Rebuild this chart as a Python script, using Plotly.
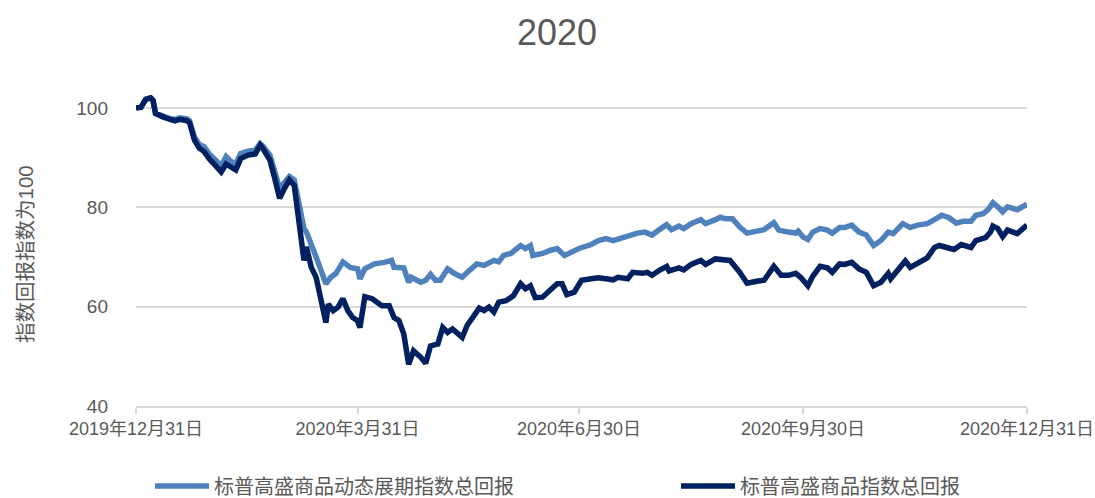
import plotly.graph_objects as go

title_text = "2020"
y_title = "指数回报指数为100"
name_dyn = "标普高盛商品动态展期指数总回报"
name_gsci = "标普高盛商品指数总回报"

tick_dates = ["2019-12-31", "2020-03-31", "2020-06-30", "2020-09-30", "2020-12-31"]
tick_labels = ["2019年12月31日", "2020年3月31日", "2020年6月30日", "2020年9月30日", "2020年12月31日"]
y_ticks = [40, 60, 80, 100]

gsci_dates = [
    "2019-12-31", "2020-01-02", "2020-01-04", "2020-01-06", "2020-01-07", "2020-01-08", "2020-01-11",
    "2020-01-14", "2020-01-16", "2020-01-18", "2020-01-21", "2020-01-22", "2020-01-24", "2020-01-26",
    "2020-01-28", "2020-01-30", "2020-02-02", "2020-02-04", "2020-02-06", "2020-02-08", "2020-02-10",
    "2020-02-12", "2020-02-15", "2020-02-18", "2020-02-20", "2020-02-21", "2020-02-24", "2020-02-26",
    "2020-02-28", "2020-03-01", "2020-03-03", "2020-03-05", "2020-03-07", "2020-03-09", "2020-03-10",
    "2020-03-12", "2020-03-14", "2020-03-16", "2020-03-18", "2020-03-19", "2020-03-21", "2020-03-23",
    "2020-03-25", "2020-03-27", "2020-03-29", "2020-03-31", "2020-04-01", "2020-04-03", "2020-04-06",
    "2020-04-08", "2020-04-10", "2020-04-13", "2020-04-15", "2020-04-17", "2020-04-19", "2020-04-21",
    "2020-04-23", "2020-04-26", "2020-04-28", "2020-04-30", "2020-05-03", "2020-05-05", "2020-05-07",
    "2020-05-09", "2020-05-11", "2020-05-13", "2020-05-15", "2020-05-18", "2020-05-20", "2020-05-22",
    "2020-05-24", "2020-05-26", "2020-05-28", "2020-05-31", "2020-06-03", "2020-06-06", "2020-06-08",
    "2020-06-10", "2020-06-12", "2020-06-15", "2020-06-18", "2020-06-21", "2020-06-23", "2020-06-25",
    "2020-06-28", "2020-06-30", "2020-07-01", "2020-07-05", "2020-07-08", "2020-07-11", "2020-07-14",
    "2020-07-16", "2020-07-20", "2020-07-22", "2020-07-26", "2020-07-28", "2020-07-30", "2020-08-02",
    "2020-08-05", "2020-08-06", "2020-08-10", "2020-08-12", "2020-08-15", "2020-08-19", "2020-08-21",
    "2020-08-25", "2020-08-28", "2020-08-31", "2020-09-04", "2020-09-07", "2020-09-11", "2020-09-14",
    "2020-09-18", "2020-09-21", "2020-09-24", "2020-09-27", "2020-09-29", "2020-10-02", "2020-10-04",
    "2020-10-07", "2020-10-10", "2020-10-12", "2020-10-15", "2020-10-17", "2020-10-20", "2020-10-23",
    "2020-10-26", "2020-10-29", "2020-11-01", "2020-11-04", "2020-11-05", "2020-11-08", "2020-11-11",
    "2020-11-13", "2020-11-16", "2020-11-18", "2020-11-20", "2020-11-23", "2020-11-25", "2020-11-28",
    "2020-12-01", "2020-12-04", "2020-12-06", "2020-12-08", "2020-12-10", "2020-12-14", "2020-12-16",
    "2020-12-17", "2020-12-19", "2020-12-21", "2020-12-23", "2020-12-25", "2020-12-27", "2020-12-31",
]
gsci_vals = [
    100.0, 100.1, 101.7, 102.0, 101.5, 98.9, 98.2,
    97.6, 97.4, 97.7, 97.4, 97.0, 93.5, 91.9,
    91.2, 89.8, 88.1, 87.1, 88.7, 88.0, 87.5,
    89.8, 90.5, 90.7, 92.5, 91.9, 89.5, 85.8,
    81.8, 83.8, 85.5, 84.4, 77.4, 69.3, 72.0,
    67.9, 65.9, 61.9, 56.8, 60.5, 59.2, 59.9,
    61.6, 59.2, 57.8, 57.2, 55.8, 62.0, 61.6,
    60.9, 60.2, 60.2, 57.8, 57.2, 54.5, 48.4,
    51.1, 49.8, 48.6, 52.1, 52.5, 55.8, 54.8,
    55.5, 54.8, 53.8, 56.2, 58.2, 59.7, 59.2,
    59.9, 58.9, 60.9, 61.2, 62.2, 64.6, 63.6,
    64.2, 61.8, 61.9, 63.2, 64.6, 64.6, 62.4,
    62.9, 64.2, 65.3, 65.6, 65.8, 65.6, 65.4,
    65.9, 65.6, 66.9, 66.7, 66.9, 66.3, 67.3,
    68.1, 67.2, 67.8, 67.4, 68.5, 69.3, 68.5,
    69.6, 69.4, 69.3, 66.9, 64.7, 65.1, 65.3,
    68.1, 66.3, 66.3, 66.7, 65.9, 64.2, 66.1,
    68.1, 67.8, 66.9, 68.6, 68.5, 68.9, 67.6,
    66.9, 64.2, 64.9, 66.7, 65.6, 67.6, 69.2,
    67.9, 68.8, 69.3, 69.8, 71.9, 72.3, 71.9,
    71.5, 72.5, 72.1, 71.9, 73.3, 73.9, 75.0,
    76.2, 75.7, 74.1, 75.4, 75.0, 74.7, 76.4,
]

dyn_dates = [
    "2019-12-31", "2020-01-02", "2020-01-04", "2020-01-06", "2020-01-07", "2020-01-08", "2020-01-11",
    "2020-01-14", "2020-01-16", "2020-01-18", "2020-01-21", "2020-01-22", "2020-01-24", "2020-01-26",
    "2020-01-28", "2020-01-30", "2020-02-02", "2020-02-04", "2020-02-06", "2020-02-08", "2020-02-10",
    "2020-02-12", "2020-02-15", "2020-02-18", "2020-02-20", "2020-02-21", "2020-02-24", "2020-02-26",
    "2020-02-28", "2020-03-01", "2020-03-03", "2020-03-05", "2020-03-07", "2020-03-09", "2020-03-10",
    "2020-03-12", "2020-03-14", "2020-03-16", "2020-03-18", "2020-03-20", "2020-03-22", "2020-03-25",
    "2020-03-28", "2020-03-31", "2020-04-01", "2020-04-03", "2020-04-07", "2020-04-11", "2020-04-14",
    "2020-04-15", "2020-04-19", "2020-04-21", "2020-04-22", "2020-04-26", "2020-04-28", "2020-04-30",
    "2020-05-02", "2020-05-04", "2020-05-07", "2020-05-10", "2020-05-13", "2020-05-16", "2020-05-19",
    "2020-05-22", "2020-05-26", "2020-05-28", "2020-05-30", "2020-06-02", "2020-06-06", "2020-06-08",
    "2020-06-10", "2020-06-11", "2020-06-15", "2020-06-18", "2020-06-21", "2020-06-24", "2020-06-27",
    "2020-06-30", "2020-07-05", "2020-07-08", "2020-07-11", "2020-07-14", "2020-07-18", "2020-07-21",
    "2020-07-24", "2020-07-27", "2020-07-30", "2020-08-02", "2020-08-05", "2020-08-07", "2020-08-10",
    "2020-08-12", "2020-08-15", "2020-08-19", "2020-08-21", "2020-08-25", "2020-08-27", "2020-08-29",
    "2020-09-01", "2020-09-04", "2020-09-07", "2020-09-11", "2020-09-14", "2020-09-18", "2020-09-20",
    "2020-09-24", "2020-09-27", "2020-09-28", "2020-09-30", "2020-10-02", "2020-10-04", "2020-10-07",
    "2020-10-10", "2020-10-12", "2020-10-15", "2020-10-17", "2020-10-20", "2020-10-23", "2020-10-26",
    "2020-10-29", "2020-11-01", "2020-11-04", "2020-11-06", "2020-11-10", "2020-11-13", "2020-11-16",
    "2020-11-20", "2020-11-23", "2020-11-26", "2020-11-29", "2020-12-02", "2020-12-05", "2020-12-08",
    "2020-12-10", "2020-12-13", "2020-12-15", "2020-12-17", "2020-12-19", "2020-12-21", "2020-12-23",
    "2020-12-25", "2020-12-27", "2020-12-31",
]
dyn_vals = [
    100.0, 100.1, 101.7, 102.0, 101.5, 98.9, 98.4,
    97.8, 97.7, 98.0, 97.8, 97.4, 94.2, 92.6,
    92.2, 90.8, 89.3, 88.3, 90.2, 89.2, 88.8,
    90.8, 91.3, 91.5, 92.8, 92.4, 90.5, 87.0,
    83.8, 85.0, 86.2, 85.5, 80.5, 75.7, 75.0,
    72.7, 70.0, 67.3, 64.6, 65.9, 66.6, 69.0,
    67.9, 67.6, 65.6, 67.6, 68.6, 68.9, 69.3,
    67.9, 67.8, 64.9, 65.9, 64.9, 65.3, 66.5,
    65.3, 65.3, 67.6, 66.6, 65.9, 67.3, 68.6,
    68.3, 69.3, 69.0, 70.3, 70.7, 72.3, 71.7,
    72.3, 70.3, 70.7, 71.3, 71.7, 70.3, 71.0,
    71.7, 72.5, 73.3, 73.7, 73.3, 73.9, 74.4,
    74.8, 75.0, 74.4, 75.5, 76.5, 75.5, 76.2,
    75.7, 76.7, 77.5, 76.7, 77.5, 78.0, 77.7,
    77.7, 76.0, 74.8, 75.2, 75.5, 76.9, 75.4,
    75.0, 74.8, 75.2, 74.0, 73.5, 75.0, 75.7,
    75.4, 74.8, 75.9, 75.9, 76.4, 75.0, 74.4,
    72.3, 73.3, 75.0, 74.7, 76.7, 75.9, 76.4,
    76.7, 77.5, 78.4, 77.9, 76.8, 77.2, 77.2,
    78.4, 78.7, 79.5, 80.9, 80.1, 79.1, 80.1,
    79.8, 79.5, 80.6,
]

font_family = "Liberation Sans, Arial, Noto Sans CJK SC, sans-serif"
grey_text = "#595959"
grid_col = "#D9D9D9"

fig = go.Figure()
fig.add_trace(go.Scatter(x=dyn_dates, y=dyn_vals, mode="lines", name=name_dyn, legend="legend",
                         line=dict(color="#4F81BD", width=5.5)))
fig.add_trace(go.Scatter(x=gsci_dates, y=gsci_vals, mode="lines", name=name_gsci, legend="legend2",
                         line=dict(color="#002060", width=5.5)))

legend_common = dict(orientation="h", xref="container", yref="container", xanchor="left",
                     y=1 - 486 / 498, yanchor="middle", bgcolor="rgba(0,0,0,0)",
                     itemwidth=54, font=dict(size=20, color=grey_text))

fig.update_layout(
    width=1095, height=498,
    margin=dict(l=136, r=68, t=88, b=92, autoexpand=False),
    paper_bgcolor="white", plot_bgcolor="white",
    font=dict(family=font_family, color=grey_text),
    title=dict(text=title_text, x=557 / 1095, xref="container", xanchor="center",
               y=1 - 32 / 498, yref="container", yanchor="middle",
               font=dict(size=36, color=grey_text)),
    showlegend=True,
    legend=dict(x=150 / 1095, **legend_common),
    legend2=dict(x=676 / 1095, **legend_common),
    xaxis=dict(type="date", range=["2019-12-31", "2020-12-31"], automargin=False,
               tickvals=tick_dates, ticktext=tick_labels, ticklabeloverflow="allow",
               showgrid=False, showline=True, linecolor=grid_col, linewidth=1.5,
               ticks="outside", ticklen=6, tickcolor=grid_col, tickwidth=1.5,
               tickfont=dict(size=18, color=grey_text), zeroline=False),
    yaxis=dict(range=[40, 104], tickvals=y_ticks, showgrid=True, gridcolor=grid_col, gridwidth=1.5,
               automargin=False, zeroline=False, showline=False, ticks="", ticklabelstandoff=27,
               tickfont=dict(size=19, color=grey_text)),
    annotations=[dict(text=y_title, textangle=-90, xref="paper", yref="paper",
                      x=(25 - 136) / 891, y=(406 - 254) / 318, xanchor="center", yanchor="middle",
                      showarrow=False, font=dict(size=20.5, color=grey_text))],
)

fig.write_html("out.html", config={"displayModeBar": False},
               post_script="document.body.style.margin='0';document.body.style.overflow='hidden';")
